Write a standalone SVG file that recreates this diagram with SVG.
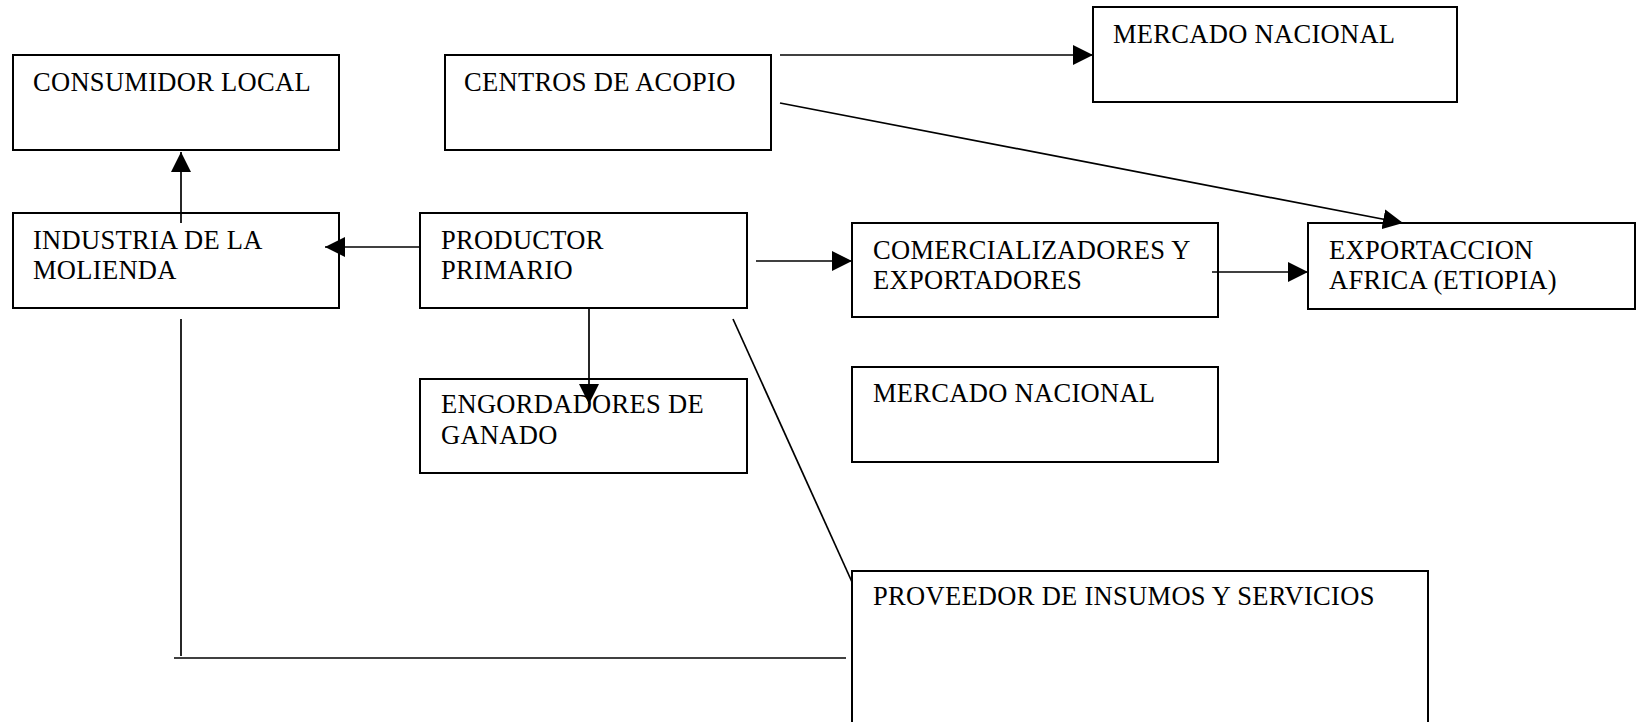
<svg xmlns="http://www.w3.org/2000/svg" width="1645" height="722" viewBox="0 0 1645 722">
<style>
.box{fill:#fff;stroke:#000;stroke-width:2}
.t{font-family:"Liberation Serif","Times New Roman",serif;font-size:26.5px;letter-spacing:0.3px;fill:#000}
.c{stroke:#000;stroke-width:1.7;fill:none}
.a{marker-end:url(#ah)}
</style>
<defs>
<marker id="ah" markerUnits="userSpaceOnUse" markerWidth="20" markerHeight="20" refX="20" refY="10" orient="auto">
<path d="M0,0 L20,10 L0,20 Z" fill="#000"/>
</marker>
</defs>
<rect width="1645" height="722" fill="#fff"/>
<g id="consumidor"><rect class="box" x="13" y="55" width="326" height="95"/><text class="t" x="33" y="91">CONSUMIDOR LOCAL</text></g>
<g id="centros"><rect class="box" x="445" y="55" width="326" height="95"/><text class="t" x="464" y="91">CENTROS DE ACOPIO</text></g>
<g id="industria"><rect class="box" x="13" y="213" width="326" height="95"/><text class="t" x="33" y="249">INDUSTRIA DE LA</text><text class="t" x="33" y="279">MOLIENDA</text></g>
<g id="productor"><rect class="box" x="420" y="213" width="327" height="95"/><text class="t" x="441" y="249">PRODUCTOR</text><text class="t" x="441" y="279">PRIMARIO</text></g>
<g id="mercado1"><rect class="box" x="1093" y="7" width="364" height="95"/><text class="t" x="1113" y="43">MERCADO NACIONAL</text></g>
<g id="comercializadores"><rect class="box" x="852" y="223" width="366" height="94"/><text class="t" x="873" y="259">COMERCIALIZADORES Y</text><text class="t" x="873" y="289">EXPORTADORES</text></g>
<g id="exportaccion"><rect class="box" x="1308" y="223" width="327" height="86"/><text class="t" x="1329" y="259">EXPORTACCION</text><text class="t" x="1329" y="289">AFRICA (ETIOPIA)</text></g>
<g id="engordadores"><rect class="box" x="420" y="379" width="327" height="94"/><text class="t" x="441" y="413">ENGORDADORES DE</text><text class="t" x="441" y="444">GANADO</text></g>
<g id="mercado2"><rect class="box" x="852" y="367" width="366" height="95"/><text class="t" x="873" y="402">MERCADO NACIONAL</text></g>
<g id="proveedor"><rect class="box" x="852" y="571" width="576" height="200"/><text class="t" x="873" y="605">PROVEEDOR DE INSUMOS Y SERVICIOS</text></g>
<g id="connectors">
<line class="c a" x1="181" y1="223" x2="181" y2="152"/>
<line class="c a" x1="420" y1="247" x2="325" y2="247"/>
<line class="c a" x1="756" y1="261" x2="852" y2="261"/>
<line class="c a" x1="1212" y1="272" x2="1308" y2="272"/>
<line class="c a" x1="780" y1="55" x2="1093" y2="55"/>
<line class="c a" x1="780" y1="103" x2="1403" y2="223"/>
<line class="c a" x1="589" y1="308" x2="589" y2="404"/>
<line class="c" x1="733" y1="319" x2="852" y2="582"/>
<line class="c" x1="181" y1="319" x2="181" y2="656"/>
<line class="c" x1="174" y1="658" x2="846" y2="658"/>
</g>
</svg>
